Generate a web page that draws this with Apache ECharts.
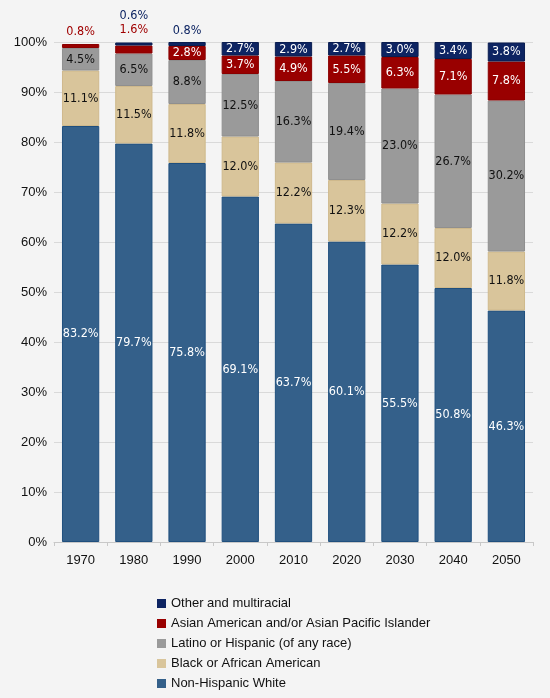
<!DOCTYPE html>
<html><head><meta charset="utf-8">
<script src="https://cdn.jsdelivr.net/npm/echarts@6/dist/echarts.min.js"></script>
<style>html,body{margin:0;padding:0;background:#f4f4f4;}#c{width:550px;height:698px;}</style>
</head><body><div id="c"></div>
<script>
const years = ['1970','1980','1990','2000','2010','2020','2030','2040','2050'];
const white  = [83.2, 79.7, 75.8, 69.1, 63.7, 60.1, 55.5, 50.8, 46.3];
const black  = [11.1, 11.5, 11.8, 12.0, 12.2, 12.3, 12.2, 12.0, 11.8];
const latino = [4.5, 6.5, 8.8, 12.5, 16.3, 19.4, 23.0, 26.7, 30.2];
const asian  = [0.8, 1.6, 2.8, 3.7, 4.9, 5.5, 6.3, 7.1, 7.8];
const other  = [null, 0.6, 0.8, 2.7, 2.9, 2.7, 3.0, 3.4, 3.8];
const yTicks = ['0%','10%','20%','30%','40%','50%','60%','70%','80%','90%','100%'];
const names = ['Non-Hispanic White','Black or African American','Latino or Hispanic (of any race)','Asian American and/or Asian Pacific Islander','Other and multiracial'];

const FONT = '"DejaVu Sans Condensed", "Liberation Sans Narrow", sans-serif';
const colors = ['#34608a','#d9c59b','#9a9a9a','#990000','#0d2462'];
const borders = ['#1f4f7e','#cfb98c','#8f8f8f','#8a0000','#0a1d50'];
const labelColors = ['#ffffff','#111111','#111111','#ffffff','#ffffff'];
const aboveColors = ['#ffffff','#111111','#111111','#a00000','#0d2462'];
const above = [
  {}, {}, {},
  {0: 6, 1: 9},
  {1: 20, 2: 5}
];

function mk(vals, si) {
  return vals.map((v, i) => {
    if (v == null) return null;
    const d = {value: v};
    if (above[si][i] !== undefined) {
      d.label = {position: 'top', distance: above[si][i], color: aboveColors[si]};
    }
    return d;
  });
}

const all = [white, black, latino, asian, other];
const series = all.map((vals, si) => ({
  name: names[si],
  type: 'bar',
  stack: 'total',
  barWidth: '70%',
  data: mk(vals, si),
  itemStyle: {color: colors[si], borderColor: borders[si], borderWidth: 1},
  label: {
    show: true, position: 'inside', color: labelColors[si],
    fontFamily: FONT, fontSize: 12.5,
    formatter: p => p.value.toFixed(1) + '%'
  },
  emphasis: {disabled: true}
}));

const chart = echarts.init(document.getElementById('c'));
chart.setOption({
  backgroundColor: '#f4f4f4',
  animation: false,
  grid: {left: 54, right: 17, top: 42, bottom: 156},
  legend: {
    orient: 'vertical', left: 152, top: 592, height: 200,
    itemWidth: 9, itemHeight: 9, itemGap: 7,
    icon: 'rect',
    itemStyle: {borderWidth: 0},
    data: names.slice().reverse(),
    textStyle: {fontFamily: '"Liberation Sans", sans-serif', fontSize: 13, color: '#111'}
  },
  xAxis: {
    type: 'category', data: years,
    axisLine: {lineStyle: {color: '#c8c8c8'}},
    axisTick: {show: true, alignWithLabel: false, length: 4, lineStyle: {color: '#c8c8c8'}},
    axisLabel: {fontFamily: '"Liberation Sans", sans-serif', fontSize: 13, color: '#111', margin: 12}
  },
  yAxis: {
    type: 'value', min: 0, max: 100, interval: 10,
    axisLine: {show: false}, axisTick: {show: false},
    splitLine: {lineStyle: {color: '#d9d9d9'}},
    axisLabel: {fontFamily: '"Liberation Sans", sans-serif', fontSize: 13, color: '#111', margin: 7,
      formatter: v => yTicks[Math.round(v / 10)]}
  },
  series: series
});
</script></body></html>
